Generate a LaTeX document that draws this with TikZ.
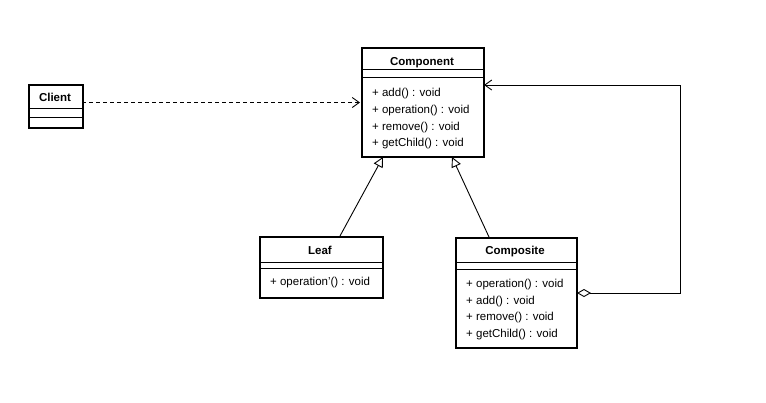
\documentclass[tikz,border=0pt]{standalone}
\usepackage{fontspec}
\setmainfont{Liberation Sans}
\usetikzlibrary{arrows.meta}
\begin{document}
\begin{tikzpicture}[x=1pt,y=-1pt,
  classbox/.style={draw,line width=1.8pt,rectangle,inner sep=0pt,anchor=north west},
  title/.style={font=\fontsize{11.5}{13}\selectfont\bfseries,inner sep=0pt,yshift=-1.5pt},
  member/.style={font=\fontsize{11.5}{13}\selectfont,inner sep=0pt,anchor=west,yshift=-2pt},
  divider/.style={line width=0.9pt},
  conn/.style={line width=0.9pt},
  dep/.style={conn,dash pattern=on 4pt off 3pt,-{Straight Barb[length=7pt,width=10pt,line width=0.9pt]}},
  gen/.style={conn,-{Triangle[open,length=10pt,width=10pt,line width=0.9pt]}},
  agg/.style={conn,{Diamond[open,length=14pt,width=8pt,line width=0.9pt]}-{Straight Barb[length=7pt,width=10pt,line width=0.9pt]}}
]
\useasboundingbox[fill=white] (0,0) rectangle (766,402);

% Client
\node[classbox,minimum width=54pt,minimum height=43pt] (client) at (28,84) {};
\node[title] (clientT) at (55,96) {Client};
\draw[divider] (28,108) -- (82,108);
\draw[divider] (28,117) -- (82,117);

% Component
\node[classbox,minimum width=122pt,minimum height=109pt] (comp) at (361,47) {};
\node[title] (compT) at (422,61) {Component};
\draw[divider] (361,69) -- (483,69);
\draw[divider] (361,77) -- (483,77);
\node[member] (c1) at (372,92) {+ add() : void};
\node[member] (c2) at (372,109) {+ operation() : void};
\node[member] (c3) at (372,126) {+ remove() : void};
\node[member] (c4) at (372,142) {+ getChild() : void};

% Leaf
\node[classbox,minimum width=123pt,minimum height=61pt] (leaf) at (259,236) {};
\node[title] (leafT) at (320,249) {Leaf};
\draw[divider] (259,262) -- (382,262);
\draw[divider] (259,268) -- (382,268);
\node[member] (l1) at (270,281) {+ operation'() : void};

% Composite
\node[classbox,minimum width=121pt,minimum height=110pt] (compo) at (455,237) {};
\node[title] (compoT) at (515,250) {Composite};
\draw[divider] (455,262) -- (576,262);
\draw[divider] (455,269) -- (576,269);
\node[member] (p1) at (466,283) {+ operation() : void};
\node[member] (p2) at (466,300) {+ add() : void};
\node[member] (p3) at (466,316) {+ remove() : void};
\node[member] (p4) at (466,333) {+ getChild() : void};

% Connectors
\coordinate (depS) at (82,102.5);
\coordinate (depE) at (360,102.5);
\draw[dep] (depS) -- (depE);

\coordinate (leafTop) at (340,236);
\coordinate (leafTip) at (383,157);
\draw[gen] (leafTop) -- (leafTip);

\coordinate (compoTop) at (489,237);
\coordinate (compoTip) at (452,157);
\draw[gen] (compoTop) -- (compoTip);

\coordinate (aggS) at (577,293);
\coordinate (aggC1) at (680,293);
\coordinate (aggC2) at (680,85);
\coordinate (aggE) at (484,85);
\draw[agg] (aggS) -- (aggC1) -- (aggC2) -- (aggE);
\end{tikzpicture}
\end{document}
